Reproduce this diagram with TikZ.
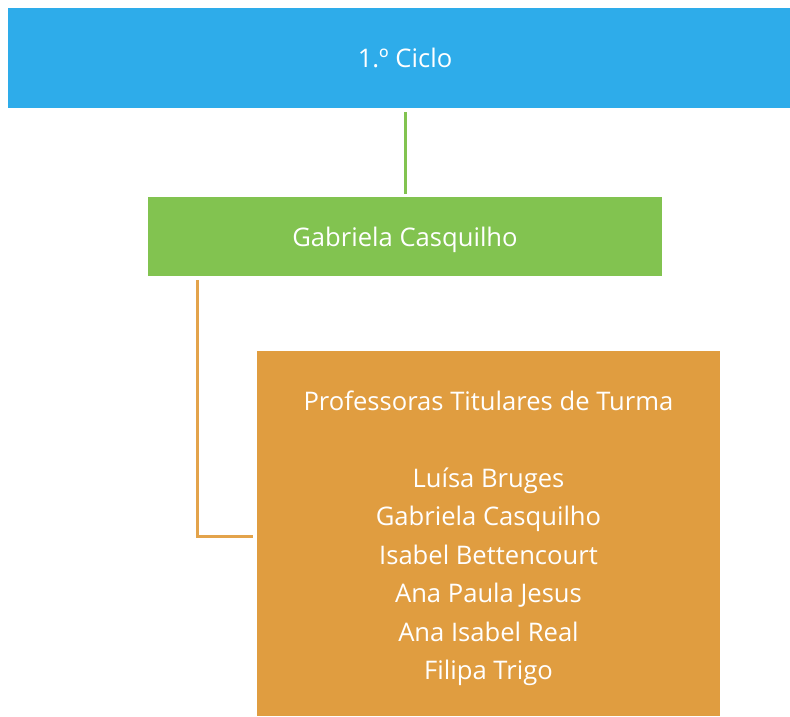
\documentclass[tikz,border=0pt]{standalone}
\usepackage{fontspec}
\setmainfont{Open Sans}
\definecolor{cblue}{HTML}{2EACEA}
\definecolor{cgreen}{HTML}{82C350}
\definecolor{corange}{HTML}{E09D40}
\definecolor{corangeline}{HTML}{E3A34B}
\tikzset{
  boxstyle/.style={draw=none, inner sep=0pt, text=white, align=center,
    font=\fontsize{25.6}{38.5}\selectfont},
  link/.style={line width=3pt}
}
\begin{document}
\begin{tikzpicture}[x=1pt,y=-1pt]
\useasboundingbox (0,0) rectangle (790,716);
\node[boxstyle, fill=cblue, minimum width=794pt, minimum height=100pt] (ciclo) at (405,58) {1.º Ciclo};
\node[boxstyle, fill=cgreen, minimum width=514pt, minimum height=79pt, text depth=0pt] (coord) at (405,236.5) {Gabriela Casquilho};
\node[boxstyle, fill=corange, minimum width=463pt, minimum height=365pt] (prof) at (488.5,533.5)
  {\rule{0pt}{29.5pt}Professoras Titulares de Turma\\[38.5pt]Luísa Bruges\\Gabriela Casquilho\\Isabel Bettencourt\\Ana Paula Jesus\\Ana Isabel Real\\Filipa Trigo};
\draw[link, draw=cgreen] ([yshift=-4pt]ciclo.south) -- ([yshift=3pt]coord.north);
\draw[link, draw=corangeline] ([xshift=50pt,yshift=-4pt]coord.south west) |- ([xshift=-4pt,yshift=-2.5pt]prof.west);
\end{tikzpicture}
\end{document}
